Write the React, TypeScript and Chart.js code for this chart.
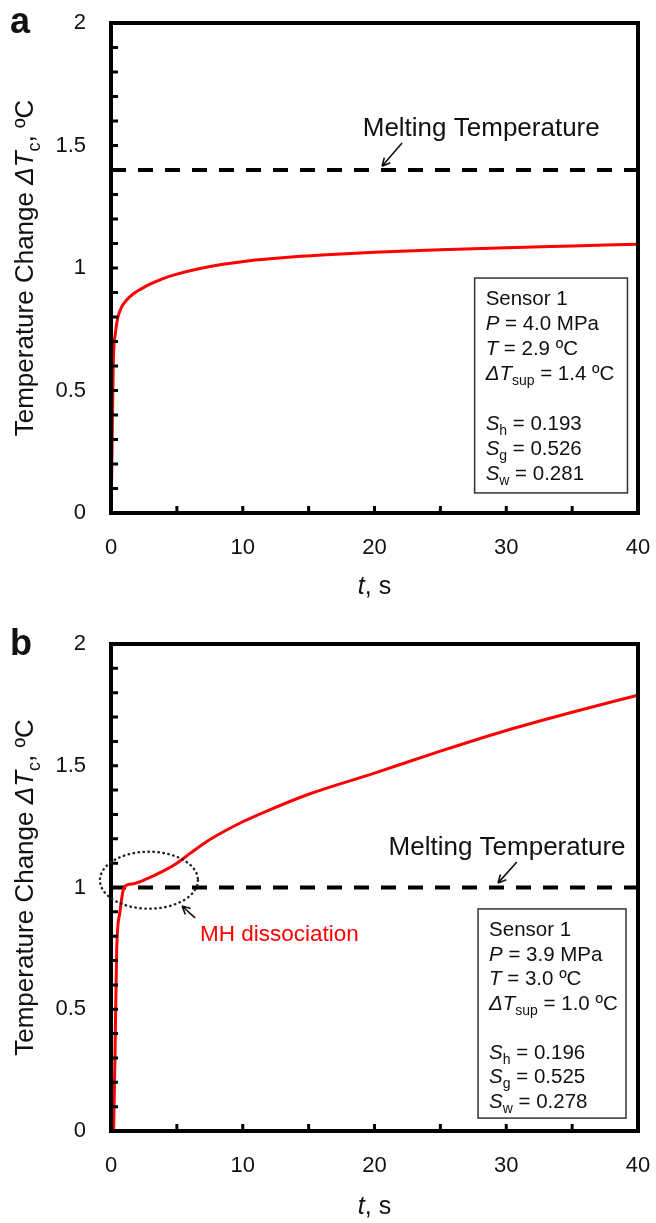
import React, { useEffect, useRef } from "react";
import { Chart, registerables } from "chart.js";

Chart.register(...registerables);

// ---------- data ----------
const T_A = [0, 0.05, 0.17, 0.35, 0.53, 0.8, 1.2, 1.7, 2.3, 3, 4, 5, 6.5, 8.5, 10.5, 13, 16, 20, 25, 30, 35, 40];
const V_A = [0, 0.15, 0.6, 0.74, 0.8, 0.84, 0.87, 0.895, 0.915, 0.935, 0.958, 0.975, 0.995, 1.015, 1.03, 1.042, 1.053, 1.064, 1.074, 1.083, 1.09, 1.097];

const T_B = [0.2, 0.3, 0.43, 0.68, 0.93, 1.2, 1.67, 2.7, 3.95, 5, 6, 7.3, 8.5, 10, 12, 15, 20, 25, 30, 35, 40];
const V_B = [0, 0.3, 0.74, 0.9, 0.99, 1.01, 1.015, 1.035, 1.067, 1.1, 1.14, 1.19, 1.228, 1.27, 1.318, 1.383, 1.47, 1.56, 1.645, 1.72, 1.79];

const MELT_A = 1.4;
const MELT_B = 1.0;

const X_RANGE = [0, 40];
const Y_RANGE = [0, 2];

const INFO_A = ["Sensor 1", "4.0 MPa", "2.9 ºC", "1.4 ºC", "0.193", "0.526", "0.281"];
const INFO_B = ["Sensor 1", "3.9 MPa", "3.0 ºC", "1.0 ºC", "0.196", "0.525", "0.278"];

// ---------- helpers ----------
const FAMILY = '"Liberation Sans", Arial, sans-serif';
type Seg = { t: string; i?: boolean; sub?: boolean };

function segFont(s: Seg, size: number) {
  const sz = s.sub ? Math.round(size * 0.68) : size;
  return `${s.i ? "italic " : ""}${sz}px ${FAMILY}`;
}

function richWidth(ctx: CanvasRenderingContext2D, segs: Seg[], size: number) {
  let w = 0;
  for (const s of segs) {
    ctx.font = segFont(s, size);
    w += ctx.measureText(s.t).width;
  }
  return w;
}

// draws rich text with vertical centre at y (cap-height centre)
function drawRich(ctx: CanvasRenderingContext2D, segs: Seg[], x: number, y: number, size: number, color: string, align: "left" | "center") {
  const total = richWidth(ctx, segs, size);
  let cx = align === "center" ? x - total / 2 : x;
  const base = y + size * 0.36;
  ctx.fillStyle = color;
  ctx.textBaseline = "alphabetic";
  ctx.textAlign = "left";
  for (const s of segs) {
    ctx.font = segFont(s, size);
    ctx.fillText(s.t, cx, s.sub ? base + size * 0.24 : base);
    cx += ctx.measureText(s.t).width;
  }
}

function arrow(ctx: CanvasRenderingContext2D, x1: number, y1: number, x2: number, y2: number) {
  ctx.save();
  ctx.strokeStyle = "#111";
  ctx.lineWidth = 1.6;
  ctx.setLineDash([]);
  ctx.beginPath();
  ctx.moveTo(x1, y1);
  ctx.lineTo(x2, y2);
  const a = Math.atan2(y2 - y1, x2 - x1);
  const h = 9;
  ctx.moveTo(x2, y2);
  ctx.lineTo(x2 - h * Math.cos(a - 0.45), y2 - h * Math.sin(a - 0.45));
  ctx.moveTo(x2, y2);
  ctx.lineTo(x2 - h * Math.cos(a + 0.45), y2 - h * Math.sin(a + 0.45));
  ctx.stroke();
  ctx.restore();
}

type Panel = {
  letter: string;
  t: number[];
  v: number[];
  melt: number;
  info: string[];
  height: number;
  top: number;
  bottom: number;
  meltLabel: [number, number];
  meltArrow: [number, number, number, number];
  box: [number, number, number, number]; // t-left, v-top, t-right, v-bottom
  lineGap: number;
  letterY: number;
  xTitleY: number;
  mh?: boolean;
};

const PANELS: Panel[] = [
  {
    letter: "a", t: T_A, v: V_A, melt: MELT_A, info: INFO_A, height: 612, top: 23, bottom: 513,
    meltLabel: [28.1, 1.576], meltArrow: [22.09, 1.51, 20.57, 1.415],
    box: [27.6, 0.959, 39.2, 0.082], lineGap: 25, letterY: 23, xTitleY: 585,
  },
  {
    letter: "b", t: T_B, v: V_B, melt: MELT_B, info: INFO_B, height: 611, top: 32, bottom: 519,
    meltLabel: [30.06, 1.17], meltArrow: [30.8, 1.105, 29.37, 1.018],
    box: [27.86, 0.912, 39.09, 0.053], lineGap: 24.5, letterY: 33, xTitleY: 593, mh: true,
  },
];

function makeDecor(p: Panel) {
  return {
    id: "decor" + p.letter,
    afterDraw(chart: any) {
      const ctx: CanvasRenderingContext2D = chart.ctx;
      const xs = chart.scales.x;
      const ys = chart.scales.y;
      const ca = chart.chartArea;
      ctx.save();
      // inward ticks
      ctx.strokeStyle = "#000";
      ctx.lineWidth = 3;
      ctx.setLineDash([]);
      ctx.beginPath();
      for (const tk of ys.ticks) {
        const py = ys.getPixelForValue(tk.value);
        if (py <= ca.top + 2 || py >= ca.bottom - 2) continue;
        ctx.moveTo(ca.left, py);
        ctx.lineTo(ca.left + 7, py);
      }
      for (const tk of xs.ticks) {
        const px = xs.getPixelForValue(tk.value);
        if (px <= ca.left + 2 || px >= ca.right - 2) continue;
        ctx.moveTo(px, ca.bottom);
        ctx.lineTo(px, ca.bottom - 7);
      }
      ctx.stroke();
      // frame
      ctx.lineWidth = 4;
      ctx.strokeRect(ca.left, ca.top, ca.right - ca.left, ca.bottom - ca.top);

      // melting label + arrow
      drawRich(ctx, [{ t: "Melting Temperature" }], xs.getPixelForValue(p.meltLabel[0]), ys.getPixelForValue(p.meltLabel[1]), 26, "#111", "center");
      arrow(ctx, xs.getPixelForValue(p.meltArrow[0]), ys.getPixelForValue(p.meltArrow[1]), xs.getPixelForValue(p.meltArrow[2]), ys.getPixelForValue(p.meltArrow[3]));

      // MH dissociation
      if (p.mh) {
        const cx = xs.getPixelForValue(2.88), cy = ys.getPixelForValue(1.03);
        const rx = xs.getPixelForValue(2.88 + 3.72) - cx;
        const ry = cy - ys.getPixelForValue(1.03 + 0.117);
        ctx.save();
        ctx.strokeStyle = "#222";
        ctx.lineWidth = 2.4;
        ctx.lineCap = "round";
        ctx.setLineDash([0.5, 4.5]);
        ctx.beginPath();
        ctx.ellipse(cx, cy, rx, ry, 0, 0, Math.PI * 2);
        ctx.stroke();
        ctx.restore();
        arrow(ctx, xs.getPixelForValue(6.38), ys.getPixelForValue(0.875), xs.getPixelForValue(5.39), ys.getPixelForValue(0.924));
        drawRich(ctx, [{ t: "MH dissociation" }], xs.getPixelForValue(6.75), ys.getPixelForValue(0.814), 22.5, "#ff0000", "left");
      }

      // info box
      const bx1 = xs.getPixelForValue(p.box[0]), by1 = ys.getPixelForValue(p.box[1]);
      const bx2 = xs.getPixelForValue(p.box[2]), by2 = ys.getPixelForValue(p.box[3]);
      ctx.fillStyle = "#fff";
      ctx.fillRect(bx1, by1, bx2 - bx1, by2 - by1);
      ctx.strokeStyle = "#333";
      ctx.lineWidth = 1.5;
      ctx.strokeRect(bx1, by1, bx2 - bx1, by2 - by1);
      const lines: Seg[][] = [
        [{ t: p.info[0] }],
        [{ t: "P", i: true }, { t: " = " + p.info[1] }],
        [{ t: "T", i: true }, { t: " = " + p.info[2] }],
        [{ t: "ΔT", i: true }, { t: "sup", sub: true }, { t: " = " + p.info[3] }],
        [],
        [{ t: "S", i: true }, { t: "h", sub: true }, { t: " = " + p.info[4] }],
        [{ t: "S", i: true }, { t: "g", sub: true }, { t: " = " + p.info[5] }],
        [{ t: "S", i: true }, { t: "w", sub: true }, { t: " = " + p.info[6] }],
      ];
      lines.forEach((segs, k) => {
        if (segs.length) drawRich(ctx, segs, bx1 + 11, by1 + 20 + k * p.lineGap, 20.5, "#111", "left");
      });

      // y title (rotated)
      ctx.save();
      ctx.translate(33, (ca.top + ca.bottom) / 2);
      ctx.rotate(-Math.PI / 2);
      drawRich(ctx, [{ t: "Temperature Change " }, { t: "ΔT", i: true }, { t: "c", sub: true }, { t: ", ºC" }], 0, -9, 26, "#111", "center");
      ctx.restore();

      // x title
      drawRich(ctx, [{ t: "t", i: true }, { t: ", s" }], (ca.left + ca.right) / 2, p.xTitleY, 25, "#111", "center");

      // panel letter
      ctx.font = `bold 36px ${FAMILY}`;
      ctx.fillStyle = "#111";
      ctx.textAlign = "left";
      ctx.textBaseline = "middle";
      ctx.fillText(p.letter, 10, p.letterY);
      ctx.restore();
    },
  };
}

function PanelChart({ p }: { p: Panel }) {
  const ref = useRef<HTMLCanvasElement>(null);
  useEffect(() => {
    if (!ref.current) return;
    const curve = p.t.map((t, i) => ({ x: t, y: p.v[i] }));
    const melt = [{ x: X_RANGE[0], y: p.melt }, { x: X_RANGE[1], y: p.melt }];
    const tickFont = { size: 22, family: FAMILY };
    const hiddenGrid = (len: number) => ({
      display: true,
      drawOnChartArea: false,
      drawTicks: true,
      tickLength: len,
      color: "rgba(0,0,0,0)",
    });
    const chart = new Chart(ref.current, {
      type: "line",
      data: {
        datasets: [
          { data: curve, borderColor: "#ff0000", borderWidth: 3, pointRadius: 0, cubicInterpolationMode: "monotone", fill: false },
          { data: melt, borderColor: "#000", borderWidth: 4, borderDash: [15, 12], pointRadius: 0, fill: false },
        ],
      },
      options: {
        animation: false,
        responsive: false,
        layout: { padding: { left: 0, right: 18, top: p.top, bottom: 0 } },
        plugins: { legend: { display: false }, tooltip: { enabled: false } },
        scales: {
          x: {
            type: "linear",
            min: X_RANGE[0],
            max: X_RANGE[1],
            grid: hiddenGrid(22),
            border: { display: false },
            ticks: {
              stepSize: 5,
              padding: 0,
              color: "#111",
              font: tickFont,
              maxRotation: 0,
              callback: (v: any) => (Math.round(v) % 10 === 0 ? String(Math.round(v)) : ""),
            },
            afterFit: (s: any) => { s.height = p.height - p.bottom; },
          },
          y: {
            type: "linear",
            min: Y_RANGE[0],
            max: Y_RANGE[1],
            grid: hiddenGrid(25),
            border: { display: false },
            ticks: {
              stepSize: 0.1,
              padding: 0,
              color: "#111",
              font: tickFont,
              autoSkip: false,
              callback: (v: any) => {
                const r = Math.round(v * 10) / 10;
                return Math.abs(r * 2 - Math.round(r * 2)) < 1e-6 ? String(r) : "";
              },
            },
            afterFit: (s: any) => { s.width = 111; },
          },
        },
      },
      plugins: [makeDecor(p)],
    } as any);
    return () => chart.destroy();
  }, [p]);
  return <canvas ref={ref} width={656} height={p.height} style={{ display: "block", width: 656, height: p.height }} />;
}

export default function App() {
  return (
    <div style={{ position: "absolute", left: 0, top: 0, width: 656, height: 1223, background: "#fff" }}>
      {PANELS.map((p) => (
        <PanelChart key={p.letter} p={p} />
      ))}
    </div>
  );
}
